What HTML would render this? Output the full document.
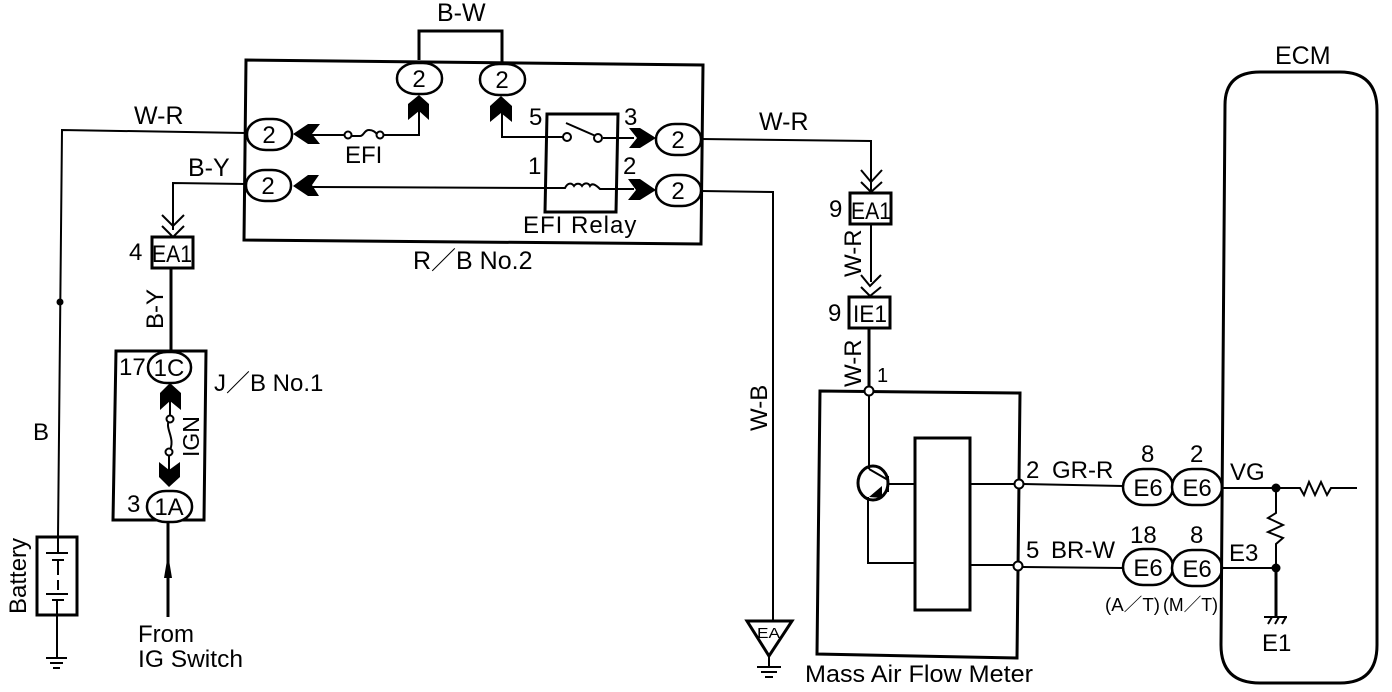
<!DOCTYPE html>
<html><head><meta charset="utf-8"><style>
html,body{margin:0;padding:0;background:#fff}
svg{display:block}
text{font-family:"Liberation Sans","Noto Sans CJK JP",sans-serif;fill:#000}
.w{fill:none;stroke:#000;stroke-width:2}
.b{fill:none;stroke:#000;stroke-width:3}
.bf{fill:#fff;stroke:#000;stroke-width:3}
.o{fill:#fff;stroke:#000;stroke-width:2.5}
.n{fill:#fff;stroke:#000;stroke-width:2}
</style></head><body>
<svg width="1392" height="692" viewBox="0 0 1392 692" xmlns="http://www.w3.org/2000/svg" font-size="24">
<!-- R/B box -->
<path class="b" d="M246 60L703 65L701 244L244 240Z"/>
<path class="b" d="M419 60V31H502V62"/>
<!-- left wires -->
<path class="w" d="M246 133L62 130L58 537"/>
<circle cx="60" cy="302" r="3.5"/>
<path class="w" d="M246 184L173 183V230"/>
<path class="w" d="M162 215L173 226L184 215M162 226L173 237L184 226"/>
<rect class="bf" x="152" y="237" width="41" height="31"/>
<path class="b" d="M171 268V352"/>
<!-- J/B box -->
<path class="b" d="M116 351H206L204 520H113Z"/>
<rect class="o" x="148" y="352" width="43" height="31" rx="19" ry="15"/>
<rect class="o" x="147" y="491" width="45" height="31" rx="19" ry="15"/>
<path d="M170 383L181 393V410L170 401L160 410V393Z"/>
<path d="M169 487L180 477V462L169 470L159 462V477Z"/>
<path class="w" d="M170 400V418M170 419C163 428 177 438 169 452M169 452V470"/>
<circle class="n" cx="170" cy="419" r="3.5"/><circle class="n" cx="169" cy="452" r="3.5"/>
<!-- from IG -->
<path class="b" d="M168 521V617"/>
<path d="M168 554L172 578H164Z"/>
<!-- battery -->
<rect class="bf" x="37" y="537" width="40" height="78"/>
<path class="w" d="M58 537V553M46 553H68M52 560H64M58 560V575M58 580V590M46 594H68M52 600H64"/>
<path class="w" d="M57 600V658M46 658H67M50 663H63M53 668H60"/>
<!-- EFI internal -->
<path class="w" d="M312 135H345M384 135H419V100"/>
<path class="w" d="M351 136H360C364 136 364 130 369 130C373 130 375 132 377 134"/>
<circle class="n" cx="348" cy="135" r="3.5"/><circle class="n" cx="380" cy="135" r="3.5"/>
<path class="w" d="M312 187L546 188M502 100V137H563"/>
<!-- relay -->
<path class="b" d="M547 114H618L616 212H545Z"/>
<path class="w" d="M566 123L598 137"/>
<circle class="n" cx="567" cy="137" r="4"/><circle class="n" cx="598" cy="138" r="4"/>
<path class="w" d="M603 138H634M547 188H565C568 182 572 183 574 186C576 183 580 183 582 186C584 183 588 182 590 186C592 183 595 184 600 189H634"/>
<!-- chevrons -->
<path d="M293 134L308 124H320L312 134L320 144H308Z"/>
<path d="M293 186L308 175H319L312 185L319 196H308Z"/>
<path d="M419 95L429 104V120L419 111L408 120V104Z"/>
<path d="M501 96L512 106V122L501 113L490 122V106Z"/>
<path d="M656 138L640 128H629L637 138L629 148H640Z"/>
<path d="M656 190L640 179H628L636 190L628 200H640Z"/>
<!-- ovals in R/B -->
<rect class="o" x="397" y="63" width="45" height="31" rx="19" ry="15"/>
<rect class="o" x="480" y="64" width="45" height="31" rx="19" ry="15"/>
<rect class="o" x="247" y="119" width="45" height="31" rx="19" ry="15"/>
<rect class="o" x="246" y="170" width="45" height="31" rx="19" ry="15"/>
<rect class="o" x="656" y="124" width="45" height="31" rx="19" ry="15"/>
<rect class="o" x="656" y="175" width="45" height="31" rx="19" ry="15"/>
<!-- right wires -->
<path class="w" d="M701 139L871 141V192"/>
<path class="w" d="M861 170L871 182L882 170M861 182L871 192L882 182"/>
<rect class="bf" x="850" y="193" width="41" height="31"/>
<path class="w" d="M871 224V282M861 275L870 286L881 275M861 287L870 296L881 287"/>
<rect class="bf" x="849" y="297" width="41" height="31"/>
<path class="b" d="M869 328V390"/>
<path class="w" d="M701 191L773 192V626"/>
<!-- EA ground -->
<path class="bf" d="M747 621H792L769 656Z"/>
<path class="w" d="M769 656V667M757 667H781M761 672H777M765 677H773"/>
<!-- MAF -->
<path class="b" d="M820 391L1020 393L1017 658L817 654Z"/>
<rect class="b" x="915" y="438" width="55" height="172"/>
<path class="w" d="M869 392V469M868 497V563H915M888 484H915M970 484H1017M970 565H1017"/>
<ellipse class="b" cx="873" cy="483" rx="15" ry="17"/>
<path class="w" d="M869 469L888 480V490M888 476V492"/>
<path d="M869 497L882 486V498Z"/>
<circle class="n" cx="869" cy="391" r="4.5"/>
<circle class="n" cx="1019" cy="484" r="4.5"/>
<circle class="n" cx="1018" cy="566" r="4.5"/>
<path class="w" d="M1023 484L1123 486M1023 567L1123 568"/>
<rect class="o" x="1123" y="469" width="50" height="36" rx="20" ry="18"/>
<rect class="o" x="1172" y="469" width="50" height="36" rx="20" ry="18"/>
<rect class="o" x="1123" y="549" width="50" height="36" rx="20" ry="18"/>
<rect class="o" x="1172" y="550" width="50" height="36" rx="20" ry="18"/>
<!-- ECM -->
<path class="b" d="M1260 72H1340Q1377 72 1377 110V645Q1377 683 1340 683H1260Q1221 683 1221 645L1225 105Q1225 72 1260 72Z"/>
<path class="w" d="M1222 488H1300L1304 495L1309 482L1315 495L1321 482L1327 495L1331 488H1357"/>
<path class="w" d="M1276 488V513L1268 518L1283 525L1268 532L1283 538L1276 544V568M1222 568H1276"/>
<path class="b" d="M1276 568V617"/>
<circle cx="1276" cy="488" r="4.5"/><circle cx="1276" cy="568" r="4.5"/>
<path class="w" d="M1264 617H1287M1268 624L1272 617M1275 624L1279 617M1282 624L1286 617"/>
<!-- text -->
<text x="437" y="21" font-size="25">B-W</text>
<text x="134" y="124" font-size="25">W-R</text>
<text x="188" y="176" font-size="25">B-Y</text>
<text x="345" y="163">EFI</text>
<text x="529" y="125">5</text>
<text x="624" y="125">3</text>
<text x="528" y="174">1</text>
<text x="623" y="174">2</text>
<text x="523" y="233" letter-spacing="1">EFI Relay</text>
<text x="413" y="269" font-size="25">R／B No.2</text>
<text x="759" y="130" font-size="25">W-R</text>
<text x="33" y="440">B</text>
<g text-anchor="middle">
<text x="419" y="87">2</text><text x="502" y="88">2</text>
<text x="269" y="143">2</text><text x="268" y="194">2</text>
<text x="678" y="148">2</text><text x="678" y="199">2</text>
<text x="169" y="376">1C</text>
<text x="169" y="515">1A</text>
<text x="1148" y="496">E6</text><text x="1197" y="496">E6</text>
<text x="1148" y="576">E6</text><text x="1197" y="577">E6</text>
</g>
<text x="152" y="262" font-size="24" textLength="40" lengthAdjust="spacingAndGlyphs">EA1</text>
<text x="129" y="260">4</text>
<text x="851" y="219" font-size="24" textLength="40" lengthAdjust="spacingAndGlyphs">EA1</text>
<text x="829" y="217">9</text>
<text x="853" y="322" font-size="24" textLength="34" lengthAdjust="spacingAndGlyphs">IE1</text>
<text x="828" y="321">9</text>
<text x="877" y="382" font-size="20">1</text>
<text x="119" y="375">17</text>
<text x="127" y="512">3</text>
<text x="214" y="391">J／B No.1</text>
<text x="138" y="642">From</text>
<text x="138" y="667" textLength="105" lengthAdjust="spacingAndGlyphs">IG Switch</text>
<text transform="translate(26,614) rotate(-90)">Battery</text>
<text transform="translate(199,457) rotate(-90)" font-size="23">IGN</text>
<text transform="translate(163,329) rotate(-90)" font-size="24">B-Y</text>
<text transform="translate(861,277) rotate(-90)">W-R</text>
<text transform="translate(861,387) rotate(-90)">W-R</text>
<text transform="translate(767,431) rotate(-90)">W-B</text>
<text x="1026" y="478">2</text><text x="1052" y="478">GR-R</text>
<text x="1026" y="558">5</text><text x="1051" y="558">BR-W</text>
<text x="1141" y="462">8</text><text x="1190" y="462">2</text>
<text x="1130" y="543">18</text><text x="1190" y="543">8</text>
<text x="1105" y="611" font-size="18" textLength="55" lengthAdjust="spacingAndGlyphs">(A／T)</text>
<text x="1163" y="611" font-size="18" textLength="55" lengthAdjust="spacingAndGlyphs">(M／T)</text>
<text x="1230" y="480">VG</text>
<text x="1229" y="561">E3</text>
<text x="1262" y="651">E1</text>
<text x="1275" y="64" font-size="25">ECM</text>
<text x="805" y="682" textLength="228" lengthAdjust="spacingAndGlyphs">Mass Air Flow Meter</text>
<text x="757" y="638" font-size="15" textLength="23" lengthAdjust="spacingAndGlyphs">EA</text>
</svg>
</body></html>
